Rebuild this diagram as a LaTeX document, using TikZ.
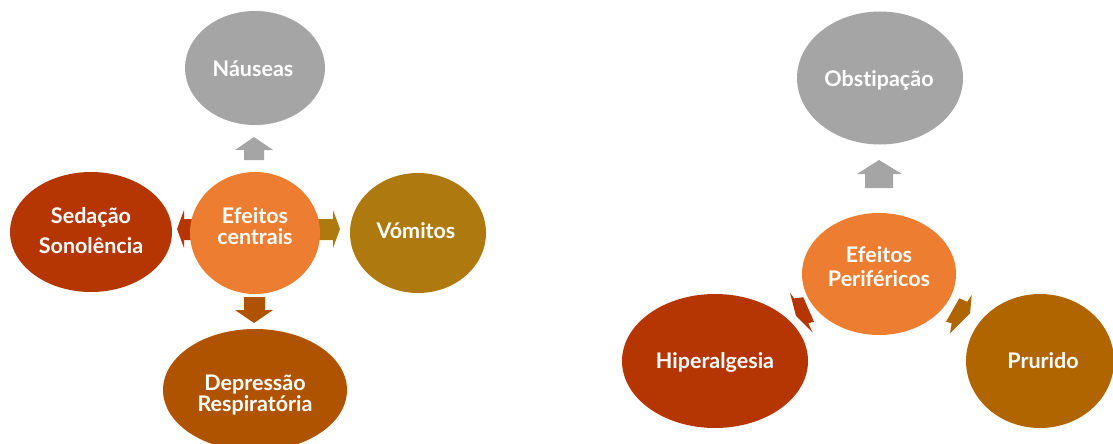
\documentclass[tikz,border=0pt]{standalone}
\usepackage{fontspec}
\setmainfont{Lato}[Ligatures=NoCommon]
\usetikzlibrary{shapes.geometric}
\definecolor{cgrey}{HTML}{A5A5A5}
\definecolor{corange}{HTML}{ED7D31}
\definecolor{cred}{HTML}{B53603}
\definecolor{cochre}{HTML}{AE790F}
\definecolor{cbrown}{HTML}{B05300}
\definecolor{camber}{HTML}{B06500}
\tikzset{
  bubble/.style={ellipse, inner sep=0pt},
  lbl/.style={anchor=base, inner sep=0pt, text=white,
    font=\fontsize{21.5}{24}\selectfont\bfseries},
}
\begin{document}
\begin{tikzpicture}[x=1pt,y=-1pt]
\useasboundingbox (0,0) rectangle (1113,444);
% ---- arrows (left diagram)
\fill[cgrey] (244,160) -- (244,150) -- (235,150) -- (254,137) -- (273,150) -- (264,150) -- (264,160) -- cycle;
\fill[cbrown] (244,297) -- (244,310) -- (235,310) -- (254,323) -- (273,310) -- (265,310) -- (265,297) -- cycle;
\fill[cochre] (318,219) -- (333,219) -- (333,210) -- (340,229) -- (333,248) -- (333,240) -- (318,240) -- cycle;
\fill[cred] (196,219) -- (184,219) -- (184,210) -- (177,229) -- (184,248) -- (184,240) -- (196,240) -- cycle;
% ---- arrows (right diagram)
\fill[cgrey] (865,188) -- (865,174) -- (857,174) -- (879,160) -- (902,174) -- (893,174) -- (893,188) -- cycle;
\fill[cred] (790,292.7) -- (794,298.3) -- (803.3,297.3) -- (814,321.7) -- (808.3,323.3) -- (812.7,332.7) -- (796,316) -- cycle;
\fill[camber] (971.7,295) -- (967.3,301.7) -- (959.3,298.3) -- (946,321.7) -- (951.7,323.3) -- (950,333.3) -- (970,313.3) -- cycle;
% ---- left diagram bubbles
\node[bubble, fill=cgrey, minimum width=140pt, minimum height=114pt] (nau) at (255,68) {};
\node[bubble, fill=corange, minimum width=130pt, minimum height=122pt] (ec) at (255,233) {};
\node[bubble, fill=cred, minimum width=162pt, minimum height=120pt] (sed) at (91,232) {};
\node[bubble, fill=cochre, minimum width=136pt, minimum height=120pt] (vom) at (418,233) {};
\node[bubble, fill=cbrown, minimum width=184pt, minimum height=122pt] (dep) at (255,390) {};
% ---- right diagram bubbles
\node[bubble, fill=cgrey, minimum width=166pt, minimum height=133pt] (obs) at (880,78) {};
\node[bubble, fill=corange, minimum width=154pt, minimum height=122pt] (ep) at (879,274) {};
\node[bubble, fill=cred, minimum width=186pt, minimum height=134pt] (hip) at (715,361) {};
\node[bubble, fill=camber, minimum width=148pt, minimum height=134pt] (pru) at (1040,361) {};
% ---- labels
\node[lbl] (naut) at (253,76) {Náuseas};
\node[lbl] (ect1) at (255,223.3) {Efeitos};
\node[lbl] (ect2) at (255,244) {centrais};
\node[lbl] (sedt1) at (91,223.3) {Sedação};
\node[lbl] (sedt2) at (91,253.3) {Sonolência};
\node[lbl] (vomt) at (416,238) {Vómitos};
\node[lbl] (dept1) at (255,390) {Depressão};
\node[lbl] (dept2) at (255,411.7) {Respiratória};
\node[lbl] (obst) at (879,86) {Obstipação};
\node[lbl] (ept1) at (879,262.7) {Efeitos};
\node[lbl] (ept2) at (879,286) {Periféricos};
\node[lbl] (hipt) at (715,368) {Hiperalgesia};
\node[lbl] (prut) at (1043,368) {Prurido};
\end{tikzpicture}
\end{document}
